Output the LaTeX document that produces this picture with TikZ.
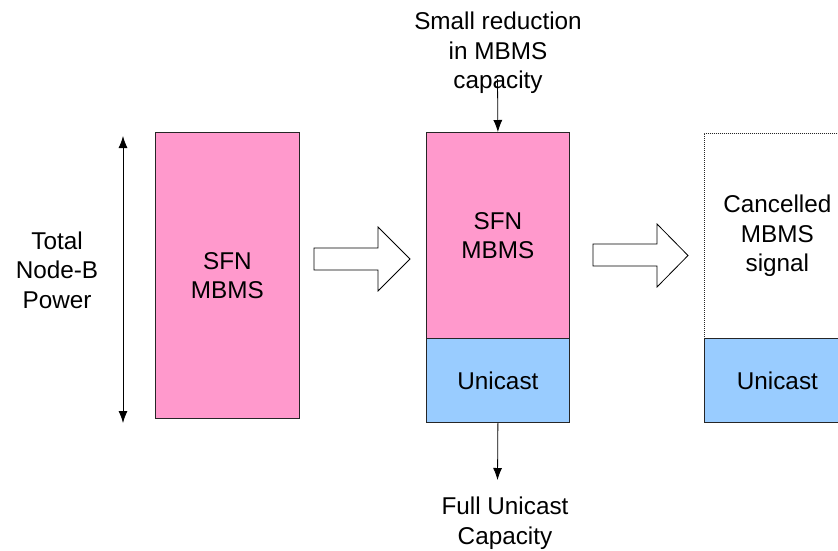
\documentclass[tikz,border=0pt]{standalone}
\usepackage{fontspec}
\setmainfont{Liberation Sans}
\usetikzlibrary{arrows.meta}
\definecolor{mbmspink}{HTML}{FF99CC}
\definecolor{unicastblue}{HTML}{99CCFF}

\begin{document}
\begin{tikzpicture}[x=1pt,y=-1pt,
  txt/.style={font=\fontsize{24.3}{29.5}\selectfont, align=center, inner sep=0pt, text=black},
  block/.style={txt, draw=black!85, line width=0.8pt, anchor=north west},
  conn/.style={draw=black, line width=0.8pt, -{Latex[length=12pt,width=9pt]}},
  bigarrow/.style={draw=black, line width=0.8pt, fill=white, line join=miter}
]
\useasboundingbox (0,0) rectangle (838,550);

% power scale on the left
\coordinate (ptop) at (123,136);
\coordinate (pbot) at (123,423);
\draw[conn, {Latex[length=12pt,width=9pt]}-{Latex[length=12pt,width=9pt]}] (ptop) -- (pbot);
\node[txt] (power) at (57,270) {Total\\Node-B\\Power};

% first column: SFN MBMS only
\node[block, fill=mbmspink, minimum width=144pt, minimum height=286pt] (b1) at (155,132) {SFN\\MBMS};

% second column: SFN MBMS plus unicast
\node[block, fill=mbmspink, minimum width=143pt, minimum height=206pt] (b2) at (426,132) {SFN\\MBMS};
\node[block, fill=unicastblue, minimum width=143pt, minimum height=84pt] (u2) at (426,338) {Unicast};

% third column: cancelled MBMS plus unicast
\node[block, dash pattern=on 1pt off 1pt, fill=white, minimum width=146pt, minimum height=205pt] (b3) at (704,133) {Cancelled\\MBMS\\signal};
\node[block, fill=unicastblue, minimum width=146pt, minimum height=84pt] (u3) at (704,338) {Unicast};

% transition arrows
\draw[bigarrow] (314,248) -- (378,248) -- (378,227) -- (410,259) -- (378,291) -- (378,270) -- (314,270) -- cycle;
\draw[bigarrow] (593,244) -- (657,244) -- (657,224) -- (688,255.5) -- (657,287) -- (657,266) -- (593,266) -- cycle;

% annotations
\node[txt] (redtxt) at (498,53) {Small reduction\\in MBMS\\capacity};
\coordinate (redstart) at (497.5,79);
\draw[conn] (redstart) -- (b2.north);

\node[txt] (captxt) at (505,523) {Full Unicast\\Capacity};
\coordinate (capend) at (497.5,480);
\draw[conn] (u2.south) -- (capend);
\end{tikzpicture}
\end{document}
